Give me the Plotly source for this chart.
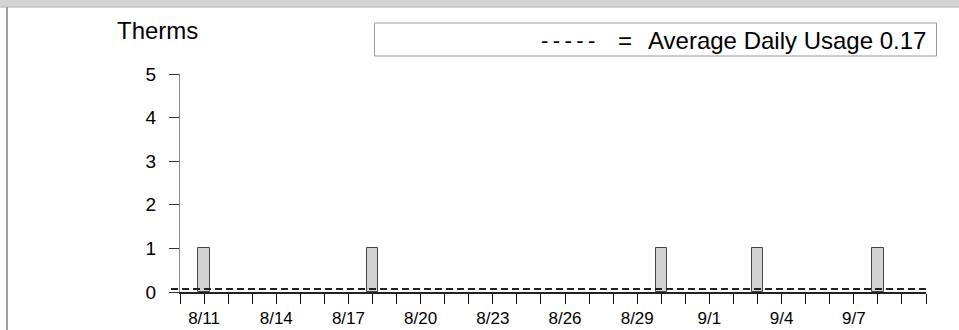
import plotly.graph_objects as go
from datetime import date, timedelta

# ---- data ----
usage_days = ["2023-08-11", "2023-08-18", "2023-08-30", "2023-09-03", "2023-09-08"]
usage_values = [1, 1, 1, 1, 1]
avg_daily_usage = 0.17
avg_line_level = 0.07          # level of the dashed line
y_tick_vals = [0, 1, 2, 3, 4, 5]
x_tick_dates = [(date(2023, 8, 10) + timedelta(days=i)).isoformat() for i in range(32)]
x_tick_labels = ["8/11", "8/14", "8/17", "8/20", "8/23", "8/26", "8/29", "9/1", "9/4", "9/7"]
y_title = "Therms"
legend_symbol = "-\u2009-\u2009-\u2009-\u2009-"

# ---- geometry helpers (pixels -> paper) ----
W, H = 959, 330
L, R, T, B = 180, 926, 74, 292
def px(x):
    return (x - L) / (R - L)
def py(y):
    return (B - y) / (B - T)

label_map = {}
for d in x_tick_dates:
    m, dd = int(d[5:7]), int(d[8:10])
    label_map[d] = f"{m}/{dd}"
ticktext = [label_map[d] if label_map[d] in x_tick_labels else "" for d in x_tick_dates]

FONT = "Liberation Sans, Arial, Helvetica, sans-serif"

fig = go.Figure()
fig.add_trace(go.Bar(
    x=usage_days, y=usage_values,
    width=0.48 * 86400000,
    marker=dict(color="#d3d3d3", line=dict(color="#444444", width=1)),
    showlegend=False, hoverinfo="x+y",
))

shapes = [
    # top grey band
    dict(type="rect", xref="paper", yref="paper", x0=px(-2), x1=px(W + 2), y0=py(6.5), y1=py(-2),
         fillcolor="#d4d4d4", line=dict(width=0), layer="below"),
    dict(type="line", xref="paper", yref="paper", x0=px(0), x1=px(W), y0=py(7), y1=py(7),
         line=dict(color="#a8a8a8", width=1)),
    # left border
    dict(type="line", xref="paper", yref="paper", x0=px(7), x1=px(7), y0=py(332), y1=py(7),
         line=dict(color="#a0a0a0", width=2)),
    # legend box
    dict(type="rect", xref="paper", yref="paper", x0=px(374.5), x1=px(936.5), y0=py(56), y1=py(23),
         fillcolor="white", line=dict(color="#999999", width=1)),
    # average dashed line
    dict(type="line", xref="paper", yref="y", x0=px(171), x1=px(928),
         y0=avg_line_level, y1=avg_line_level,
         line=dict(color="#222222", width=2, dash="7px,4px")),
]

annotations = [
    dict(text=y_title, xref="paper", yref="paper", x=px(157), y=py(30), showarrow=False,
         xanchor="center", yanchor="middle", font=dict(family=FONT, size=24, color="black")),
    dict(text=legend_symbol, xref="paper", yref="paper", x=px(568), y=py(40), showarrow=False,
         xanchor="center", yanchor="middle", font=dict(family=FONT, size=22, color="black")),
    dict(text="=", xref="paper", yref="paper", x=px(625), y=py(40), showarrow=False,
         xanchor="center", yanchor="middle", font=dict(family=FONT, size=24, color="black")),
    dict(text=f"Average Daily Usage {avg_daily_usage:.2f}", xref="paper", yref="paper",
         x=px(928), y=py(40), showarrow=False,
         xanchor="right", yanchor="middle", font=dict(family=FONT, size=24, color="black")),
]

fig.update_layout(
    width=W, height=H, autosize=False,
    margin=dict(l=L, r=W - R, t=T, b=H - B, pad=0),
    paper_bgcolor="white", plot_bgcolor="white",
    font=dict(family=FONT, color="black"),
    shapes=shapes, annotations=annotations,
    bargap=0,
    xaxis=dict(
        type="date", range=[x_tick_dates[0], x_tick_dates[-1]],
        tickmode="array", tickvals=x_tick_dates, ticktext=ticktext,
        ticks="outside", ticklen=10, tickwidth=1, tickcolor="#111111",
        showline=True, linecolor="#222222", linewidth=2,
        showgrid=False, zeroline=False, automargin=False,
        tickfont=dict(family=FONT, size=17, color="black"),
    ),
    yaxis=dict(
        range=[0, 5], tickvals=y_tick_vals,
        ticks="outside", ticklen=10, tickwidth=1, tickcolor="#333333",
        showline=True, linecolor="#888888", linewidth=1,
        showgrid=False, zeroline=False, automargin=False,
        tickfont=dict(family=FONT, size=19, color="black"),
        ticklabelstandoff=9,
    ),
)

fig.write_html("out.html", config={"displayModeBar": False},
               post_script="document.body.style.margin='0';document.body.style.overflow='hidden';")
